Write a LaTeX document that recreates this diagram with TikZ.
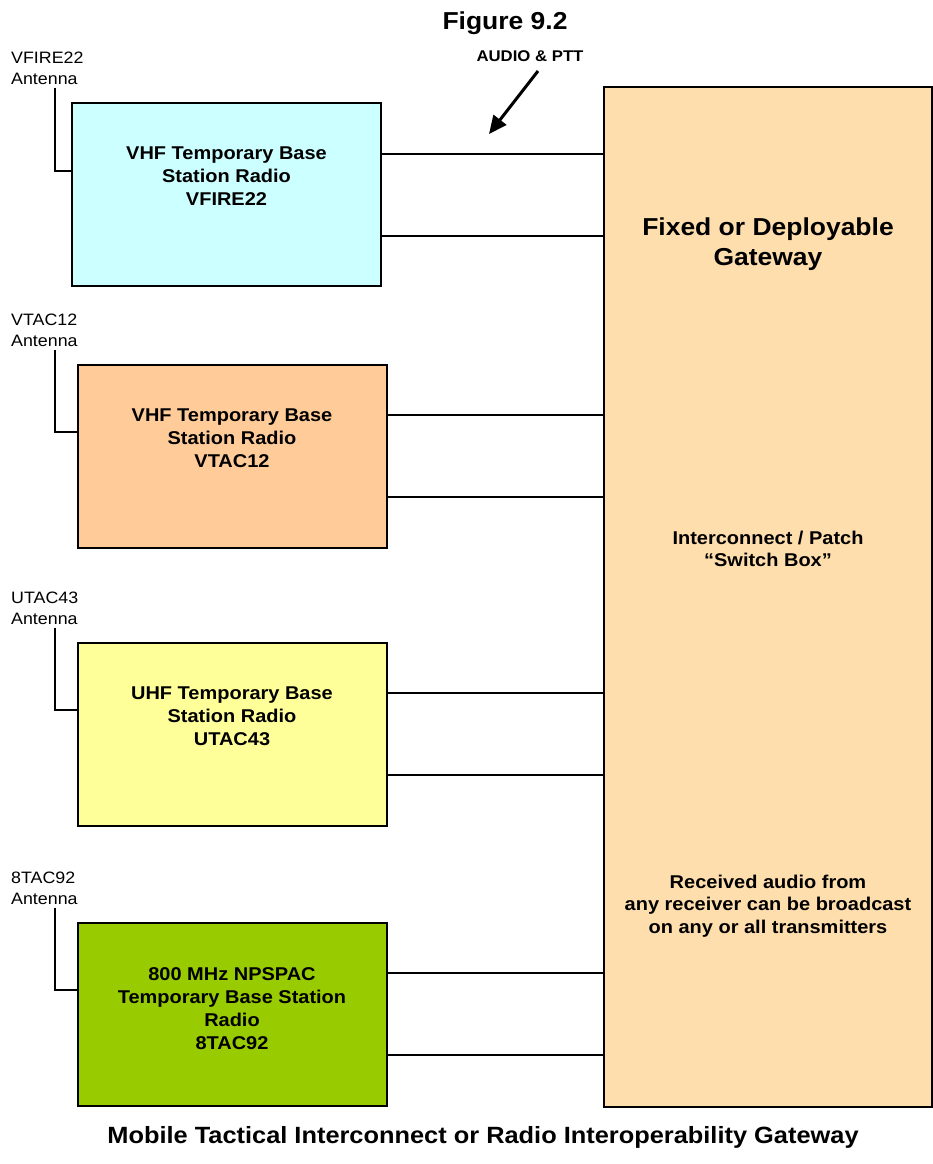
\documentclass[tikz,border=0pt]{standalone}
\usepackage{fontspec}
\setmainfont[FakeStretch=1.08]{Liberation Sans}
\usetikzlibrary{arrows.meta}
\definecolor{vhfcyan}{HTML}{CCFFFF}
\definecolor{vhforange}{HTML}{FFCC99}
\definecolor{uhfyellow}{HTML}{FFFF99}
\definecolor{npgreen}{HTML}{99CC00}
\definecolor{gwtan}{HTML}{FFDEAD}

\begin{document}
\begin{tikzpicture}[x=1pt, y=-1pt,
	radio/.style={draw, line width=2pt, minimum width=309pt, minimum height=183pt},
	radiotext/.style={anchor=north, inner sep=0pt, align=center,
		font=\bfseries\fontsize{18.5}{23}\selectfont},
	antlabel/.style={anchor=north west, inner sep=0pt, align=left,
		font=\fontsize{16.5}{20.7}\selectfont},
	gwtext/.style={align=center, font=\bfseries\fontsize{18.5}{22.5}\selectfont},
	wire/.style={line width=2pt}]
	\useasboundingbox (0,0) rectangle (933,1164);

	% gateway
	\node[draw, line width=2pt, fill=gwtan, minimum width=328pt, minimum height=1020pt] (gw) at (768,596.5) {};
	\node[gwtext, font=\bfseries\fontsize{24.5}{30}\selectfont] (gwtitle) at (768,244) {Fixed or Deployable\\Gateway};
	\node[gwtext] (patch) at (768,549) {Interconnect / Patch\\“Switch Box”};
	\node[gwtext] (bcast) at (768,906) {Received audio from\\any receiver can be broadcast\\on any or all transmitters};

	% radios
	\node[radio, fill=vhfcyan] (r1) at (226.5,194.5) {};
	\node[radio, fill=vhforange] (r2) at (232,456) {};
	\node[radio, fill=uhfyellow] (r3) at (232,734) {};
	\node[radio, fill=npgreen] (r4) at (232,1014) {};
	\node[radiotext] (r1txt) at ([yshift=-45pt]r1.north) {VHF Temporary Base\\Station Radio\\VFIRE22};
	\node[radiotext] (r2txt) at ([yshift=-45pt]r2.north) {VHF Temporary Base\\Station Radio\\VTAC12};
	\node[radiotext] (r3txt) at ([yshift=-45pt]r3.north) {UHF Temporary Base\\Station Radio\\UTAC43};
	\node[radiotext] (r4txt) at ([yshift=-46pt]r4.north) {800 MHz NPSPAC\\Temporary Base Station\\Radio\\8TAC92};

	% antennas
	\node[antlabel] (a1) at (11,52) {VFIRE22\\Antenna};
	\node[antlabel] (a2) at (11,314) {VTAC12\\Antenna};
	\node[antlabel] (a3) at (11,592) {UTAC43\\Antenna};
	\node[antlabel] (a4) at (11,872) {8TAC92\\Antenna};
	\foreach \n in {1,2,3,4}
		\draw[wire] ([xshift=44pt, yshift=-3pt]a\n.south west) |- ([yshift=24pt]r\n.west);

	% audio & ptt lines
	\foreach \n in {1,2,3,4} {
		\coordinate (r\n top) at ([yshift=41pt]r\n.east);
		\coordinate (r\n bot) at ([yshift=-41pt]r\n.east);
		\draw[wire] (r\n top) -- (r\n top -| gw.west);
		\draw[wire] (r\n bot) -- (r\n bot -| gw.west);
	}

	\node[font=\bfseries\fontsize{24.5}{28}\selectfont] (fig) at (505,23) {Figure 9.2};
	\node[font=\bfseries\fontsize{15.5}{18}\selectfont] (audio) at (530,56) {AUDIO \& PTT};
	\coordinate (pttfrom) at (538,71);
	\coordinate (ptt) at (489,134);
	\draw[line width=3pt, -{Triangle[length=18pt, width=16pt]}] (pttfrom) -- (ptt);

	\node[font=\bfseries\fontsize{23.5}{28}\selectfont] (caption) at (483,1137)
		{Mobile Tactical Interconnect or Radio Interoperability Gateway};
\end{tikzpicture}
\end{document}
